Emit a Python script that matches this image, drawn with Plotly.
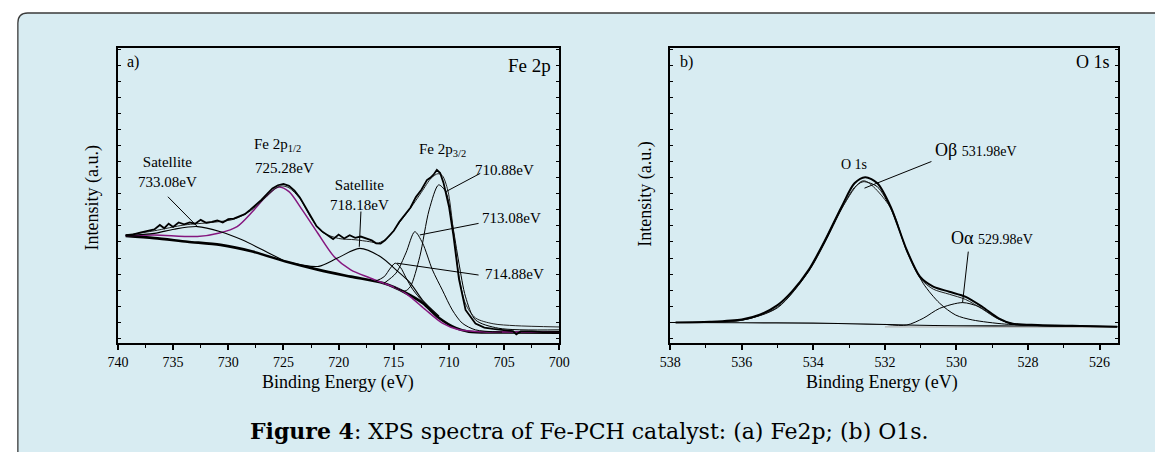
import plotly.graph_objects as go

W, H = 1155, 452

# ---------------- Panel a : Fe 2p ----------------
E_raw_a = [739.3, 738.6, 737.9, 737.3, 736.7, 736.2, 735.8, 735.4, 735.0, 734.5, 734.0, 733.5, 733.0, 732.5,
           732.0, 731.5, 731.0, 730.5, 730.0, 729.5, 729.0, 728.5, 728.0, 727.5, 727.0, 726.5, 726.0, 725.5,
           725.0, 724.5, 724.0, 723.5, 723.0, 722.5, 722.0, 721.5, 721.0, 720.5, 720.0, 719.5, 719.0, 718.5,
           718.0, 717.5, 717.0, 716.6, 716.2, 715.8, 715.4, 715.0, 714.5, 714.0, 713.5, 713.0, 712.5, 712.0,
           711.7, 711.4, 711.1, 710.8, 710.5, 710.0, 709.6, 709.1, 708.5, 707.6, 706.8, 706.0, 705.0, 704.2,
           703.9, 703.5, 702.5, 701.5, 700.0]
I_raw_a = [33.6, 33.9, 34.5, 35.0, 35.4, 36.8, 35.8, 37.2, 36.2, 37.6, 37.0, 37.6, 37.2, 38.4,
           37.5, 37.8, 38.2, 37.6, 38.6, 38.8, 39.5, 40.2, 41.6, 43.0, 44.6, 46.4, 48.2, 49.2,
           49.6, 49.0, 47.5, 45.3, 42.3, 39.2, 36.4, 34.8, 33.6, 32.4, 33.8, 32.6, 33.6, 32.8,
           33.2, 32.6, 32.0, 31.1, 31.0, 32.0, 33.5, 35.0, 37.8, 40.2, 42.2, 45.5, 47.8, 50.8,
           51.5, 52.5, 54.0, 53.0, 50.0, 42.5, 33.5, 20.0, 10.3, 6.1, 4.8, 4.4, 4.0, 3.7,
           2.7, 3.6, 3.6, 3.4, 3.5]

E_fit_a = [739.3, 736.7, 734.0, 731.5, 729.5, 728.0, 726.8, 725.8, 725.2, 724.5, 723.5, 722.5, 721.5, 720.0,
           718.5, 717.2, 716.4, 715.5, 714.5, 713.5, 712.5, 711.6, 711.0, 710.6, 710.1, 709.6, 709.1, 708.5,
           707.6, 706.0, 704.0, 700.0]
I_fit_a = [33.6, 35.0, 36.8, 37.6, 38.6, 41.2, 44.8, 48.0, 49.0, 48.4, 45.0, 39.0, 34.6, 32.6,
           32.2, 31.6, 31.2, 33.0, 37.5, 42.0, 47.0, 51.5, 52.8, 52.2, 47.5, 35.0, 21.0, 12.2,
           7.8, 6.0, 5.4, 5.0]

E_bg_a = [739.3, 736.7, 733.7, 730.7, 727.8, 724.8, 721.8, 718.9, 715.9, 713.9, 712.4, 710.9, 709.4, 708.2, 705.2, 700.0]
I_bg_a = [33.4, 32.7, 31.6, 30.6, 28.5, 25.4, 22.8, 20.7, 18.6, 15.6, 12.5, 7.8, 4.7, 3.5, 3.3, 3.2]

E_p12 = [739.3, 736.7, 732.8, 730.8, 729.2, 727.8, 726.6, 725.5, 724.5, 723.3, 721.9, 720.4, 718.9, 717.1,
         714.4, 713.5, 712.1, 710.6, 709.1, 707.0, 700.0]
I_p12 = [33.5, 33.7, 33.2, 34.3, 36.3, 41.0, 45.6, 48.6, 47.2, 41.5, 34.3, 26.9, 22.8, 20.2,
         16.5, 14.4, 10.3, 6.2, 4.1, 3.5, 3.5]

E_sat733 = [739.3, 736.7, 734.9, 732.8, 730.7, 728.7, 726.3, 724.8]
I_sat733 = [33.5, 34.2, 35.5, 36.3, 34.7, 32.1, 28.0, 25.4]

E_sat718 = [724.8, 723.3, 721.8, 720.1, 718.1, 716.2, 714.8, 713.5, 712.4, 710.9]
I_sat718 = [25.4, 24.3, 23.9, 26.5, 29.5, 26.9, 22.8, 18.7, 13.4, 8.4]

E_pk714 = [716.8, 715.9, 715.3, 714.87, 714.4, 713.9, 713.3, 712.4, 711.5]
I_pk714 = [19.1, 20.6, 23.4, 24.9, 23.6, 20.4, 16.8, 13.0, 10.0]

E_pk713 = [715.9, 714.8, 713.9, 713.1, 712.4, 711.5, 710.6, 709.7, 708.8, 707.6, 705.2]
I_pk713 = [18.6, 21.8, 28.1, 34.7, 31.2, 22.8, 16.5, 10.3, 6.2, 4.1, 3.4]

E_pk711 = [715.0, 714.0, 713.5, 712.65, 711.8, 710.94, 710.3, 709.7, 709.1, 708.5, 707.6, 705.5, 700.0]
I_pk711 = [17.6, 16.2, 17.6, 26.9, 41.5, 49.3, 47.2, 37.3, 24.9, 14.4, 7.2, 4.6, 4.1]

# ---------------- Panel b : O 1s ----------------
E_raw_b = [537.85, 536.9, 536.0, 535.5, 535.0, 534.6, 534.13, 533.67, 533.21, 532.85, 532.55, 532.21,
           531.84, 531.39, 531.02, 530.65, 530.2, 529.74, 529.28, 528.82, 528.46, 527.73, 526.5, 525.5]
I_raw_b = [6.4, 6.6, 7.3, 8.8, 11.8, 16.0, 22.8, 32.1, 42.5, 49.8, 51.7, 49.8,
           42.5, 29.0, 20.7, 17.6, 16.0, 14.4, 11.3, 7.7, 6.1, 5.6, 5.3, 5.1]

E_fit_b = [537.85, 536.0, 535.0, 534.13, 533.21, 532.6, 531.84, 531.39, 531.0, 530.65, 530.2, 529.75,
           529.28, 528.82, 528.3, 527.5, 525.5]
I_fit_b = [6.4, 7.1, 11.2, 22.5, 42.0, 50.6, 42.2, 28.6, 20.0, 16.8, 15.2, 13.6,
           10.6, 7.4, 5.8, 5.4, 5.1]

E_ob = [537.85, 536.0, 535.0, 534.13, 533.67, 533.21, 532.85, 532.61, 532.21, 531.84, 531.39, 530.93,
        530.47, 530.02, 529.56, 528.65, 527.73, 525.5]
I_ob = [6.4, 7.1, 11.0, 22.3, 31.5, 41.8, 48.5, 50.3, 48.7, 42.0, 29.0, 18.6,
        12.4, 8.7, 7.2, 5.9, 5.5, 5.1]

E_oa = [532.0, 531.39, 530.93, 530.47, 529.83, 529.37, 528.93, 528.46, 527.9, 527.0]
I_oa = [5.8, 5.6, 7.7, 10.8, 12.6, 11.3, 8.2, 5.9, 5.5, 5.3]

E_bg_b = [538.0, 536.0, 534.0, 532.5, 531.4, 530.0, 528.0, 525.5]
I_bg_b = [6.4, 6.3, 6.2, 5.9, 5.6, 5.4, 5.3, 5.1]

E_gray_b = [532.0, 525.5]
I_gray_b = [5.0, 4.9]

TICKS_A = [740, 735, 730, 725, 720, 715, 710, 705, 700]
TICKS_B = [538, 536, 534, 532, 530, 528, 526]

# ---------------------------------------------------------------
def X(px):
    return px / W


def Y(py):
    return 1 - py / H


SERIF = "Liberation Serif, Times New Roman, serif"
PURPLE = "#85177f"
BOX = "#d8ecf2"

fig = go.Figure()


def add(x, y, ax, width=1.0, color="black", shape="spline", dash=None):
    xa, ya = ("x", "y") if ax == "a" else ("x2", "y2")
    fig.add_trace(go.Scatter(x=x, y=y, xaxis=xa, yaxis=ya, mode="lines",
                             line=dict(color=color, width=width, shape=shape, smoothing=0.8,
                                       dash=dash),
                             hoverinfo="skip", showlegend=False))


# panel a
add(E_bg_a, I_bg_a, "a", 2.6)
add(E_p12, I_p12, "a", 1.5, PURPLE)
add(E_sat733, I_sat733, "a", 1.1)
add(E_sat718, I_sat718, "a", 1.1)
add(E_pk714, I_pk714, "a", 1.0)
add(E_pk713, I_pk713, "a", 1.0)
add(E_pk711, I_pk711, "a", 1.0)
add(E_fit_a, I_fit_a, "a", 1.0, "#222")
add(E_raw_a, I_raw_a, "a", 1.8, "black", shape="linear")

# panel b
add(E_gray_b, I_gray_b, "b", 1.2, "#b8b8b8", shape="linear")
add(E_bg_b, I_bg_b, "b", 1.1)
add(E_oa, I_oa, "b", 1.0)
add(E_ob, I_ob, "b", 1.0)
add(E_fit_b, I_fit_b, "b", 1.0, "#222")
add(E_raw_b, I_raw_b, "b", 2.0)

tickfont = dict(family=SERIF, size=14, color="black")


def xaxis(dom, rng, ticks, minor, anchor):
    return dict(domain=dom, range=rng, anchor=anchor, tickmode="array", tickvals=ticks,
                ticks="outside", ticklen=5, tickwidth=1.5, tickcolor="black",
                minor=dict(dtick=minor, ticks="outside", ticklen=3, tickwidth=1.2, tickcolor="black",
                           tick0=ticks[0], showgrid=False),
                showline=True, linecolor="black", linewidth=1.8, mirror=True,
                showgrid=False, zeroline=False, tickfont=tickfont)


def yaxis(dom, anchor):
    return dict(domain=dom, range=[0, 92], anchor=anchor, showticklabels=False, ticks="inside",
                ticklen=3, tickwidth=1.2, tickcolor="black", tick0=1.5, dtick=5,
                showline=True, linecolor="black", linewidth=1.8, mirror="ticks",
                showgrid=False, zeroline=False)


fig.update_layout(
    width=W, height=H,
    margin=dict(l=0, r=0, t=0, b=0),
    paper_bgcolor="white", plot_bgcolor="rgba(0,0,0,0)",
    xaxis=xaxis([X(109), X(559)], [740, 700], TICKS_A, 2.5, "y"),
    yaxis=yaxis([Y(343), Y(48)], "x"),
    xaxis2=xaxis([X(672), X(1128)], [538, 525.5], TICKS_B, 1, "y2"),
    yaxis2=yaxis([Y(343), Y(48)], "x2"),
)

# outer rounded box
r = 10
path = (f"M {X(7)},{Y(470)} L {X(7)},{Y(13 + r)} Q {X(7)},{Y(13)} {X(7 + r)},{Y(13)} "
        f"L {X(1170)},{Y(13)} L {X(1170)},{Y(470)} Z")
fig.add_shape(type="path", path=path, xref="paper", yref="paper", layer="below",
              fillcolor=BOX, line=dict(color="#3a3a3a", width=1.3))


def lead(x0, y0, x1, y1, ax):
    xr, yr = ("x", "y") if ax == "a" else ("x2", "y2")
    fig.add_shape(type="line", x0=x0, y0=y0, x1=x1, y1=y1, xref=xr, yref=yr,
                  line=dict(color="black", width=1))


def txt(x, y, s, ax, size=15, xanchor="center"):
    if ax == "paper":
        xr, yr = "paper", "paper"
    else:
        xr, yr = ("x", "y") if ax == "a" else ("x2", "y2")
    fig.add_annotation(x=x, y=y, xref=xr, yref=yr, text=s, showarrow=False,
                       xanchor=xanchor, yanchor="middle",
                       font=dict(family=SERIF, size=size, color="black"))


# panel a labels
txt(X(116), Y(62), "a)", "paper", 16, "left")
txt(X(553), Y(65), "Fe 2p", "paper", 19, "right")
txt(735.55, 53.2, "Satellite<br>733.08eV", "a", 15)
lead(735.47, 45.6, 732.8, 36.3, "a")
txt(725.55, 61.8, "Fe 2p<sub>1/2</sub>", "a", 15)
txt(724.95, 54.5, "725.28eV", "a", 15)
txt(718.09, 46.2, "Satellite<br>718.18eV", "a", 15)
lead(717.98, 41.0, 718.13, 30.0, "a")
txt(710.58, 60.2, "Fe 2p<sub>3/2</sub>", "a", 15)
txt(704.95, 54.0, "710.88eV", "a", 15)
lead(707.17, 52.9, 710.28, 47.2, "a")
txt(704.36, 38.9, "713.08eV", "a", 15)
lead(707.32, 37.3, 712.65, 33.7, "a")
txt(704.06, 21.5, "714.88eV", "a", 15)
lead(707.32, 21.2, 714.73, 24.9, "a")

# panel b labels
txt(X(680), Y(62), "b)", "paper", 16, "left")
txt(X(1122), Y(62), "O 1s", "paper", 18, "right")
txt(532.85, 55.8, "O 1s", "b", 14)
txt(530.65, 60.2, 'Oβ <span style="font-size:14px">531.98eV</span>', "b", 18, "left")
lead(530.7, 56.6, 532.57, 48.3, "b")
txt(530.2, 32.7, 'Oα <span style="font-size:14px">529.98eV</span>', "b", 18, "left")
lead(529.67, 28.5, 529.83, 12.6, "b")

# axis titles
for cx in (333, 888):
    txt(X(cx), Y(382), "Binding Energy (eV)", "paper", 18)
for cx, cy in ((83, 198), (646, 194)):
    fig.add_annotation(x=X(cx), y=Y(cy), xref="paper", yref="paper", text="Intensity (a.u.)",
                       showarrow=False, textangle=-90, xanchor="center", yanchor="middle",
                       font=dict(family=SERIF, size=18, color="black"))

# caption
fig.add_annotation(x=X(590), y=Y(431), xref="paper", yref="paper",
                   text="<b>Figure 4</b>: XPS spectra of Fe-PCH catalyst: (a) Fe2p; (b) O1s.",
                   showarrow=False, xanchor="center", yanchor="middle",
                   font=dict(family="DejaVu Serif", size=22, color="black"))

fig.write_html("out.html")
